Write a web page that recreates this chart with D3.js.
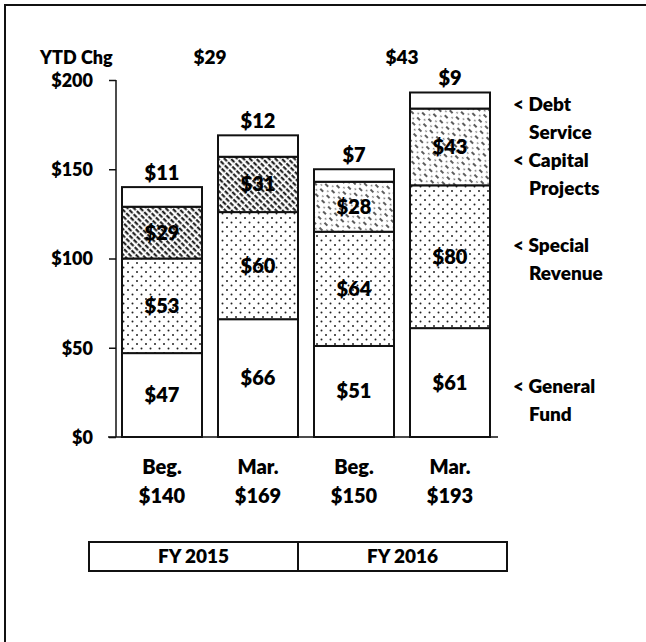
<!DOCTYPE html>
<html>
<head>
<meta charset="utf-8">
<script src="https://d3js.org/d3.v7.min.js"></script>
<style>
  body { margin: 0; background: #fff; }
  text { font-family: Lato, "Open Sans", sans-serif; font-weight: 800; fill: #000; }
</style>
</head>
<body>
<script>
    // chart values
    var barNames = ["Beg.", "Mar.", "Beg.", "Mar."];
    var totals = [140, 169, 150, 193];
    var generalFund = [47, 66, 51, 61];
    var specialRevenue = [53, 60, 64, 80];
    var capitalProjects = [29, 31, 28, 43];
    var debtService = [11, 12, 7, 9];
    var ytdChange = [29, 43];
    var fiscalYears = ["FY 2015", "FY 2016"];
    var yTicks = [0, 50, 100, 150, 200];
    var legendNames = [["Debt", "Service"], ["Capital", "Projects"], ["Special", "Revenue"], ["General", "Fund"]];

    var width = 646;
    var height = 642;

    var svg = d3.select("body")
    .append("svg")
    .attr("width", width)
    .attr("height", height);

    // frame (top and left edges only)
    svg.append("path")
    .attr("d", "M5,642 V5 H646")
    .attr("fill", "none")
    .attr("stroke", "#111")
    .attr("stroke-width", 2);

    var defs = svg.append("defs");

    var dots = defs.append("pattern")
    .attr("id", "dots")
    .attr("patternUnits", "userSpaceOnUse")
    .attr("width", 9).attr("height", 9);
    dots.append("rect").attr("width", 9).attr("height", 9).attr("fill", "#fff");
    dots.append("circle").attr("cx", 2).attr("cy", 2).attr("r", 1).attr("fill", "#222");
    dots.append("circle").attr("cx", 6.5).attr("cy", 6.5).attr("r", 1).attr("fill", "#222");

    var hatch = defs.append("pattern")
    .attr("id", "hatch")
    .attr("patternUnits", "userSpaceOnUse")
    .attr("width", 4.5).attr("height", 6)
    .attr("patternTransform", "rotate(-45)");
    hatch.append("rect").attr("width", 4.5).attr("height", 6).attr("fill", "#fff");
    hatch.append("line").attr("x1", 1.5).attr("y1", 0).attr("x2", 1.5).attr("y2", 4.5)
    .attr("stroke", "#111").attr("stroke-width", 2);

    var hatchLight = defs.append("pattern")
    .attr("id", "hatchLight")
    .attr("patternUnits", "userSpaceOnUse")
    .attr("width", 7).attr("height", 9)
    .attr("patternTransform", "rotate(-45)");
    hatchLight.append("rect").attr("width", 7).attr("height", 9).attr("fill", "#fff");
    hatchLight.append("line").attr("x1", 2).attr("y1", 0).attr("x2", 2).attr("y2", 4)
    .attr("stroke", "#333").attr("stroke-width", 1.6);
    hatchLight.append("circle").attr("cx", 5.5).attr("cy", 7).attr("r", 0.8).attr("fill", "#444");

    var scaleY = d3.scaleLinear()
    .domain([0, 200])
    .range([437, 80]);

    var ids = d3.range(barNames.length);
    var scaleX = d3.scaleBand()
    .domain(ids)
    .range([114, 498])
    .paddingInner(1/6)
    .paddingOuter(1/12);

    // y axis
    var yAxis = svg.append("g")
    .attr("transform", "translate(116,0)")
    .call(d3.axisLeft(scaleY).tickValues(yTicks).tickSize(7).tickFormat(function(d){ return "$" + d; }));
    yAxis.select(".domain").attr("stroke", "#111").attr("stroke-width", 1.5).attr("d", "M0,80 V437");
    yAxis.selectAll(".tick line").attr("stroke", "#111").attr("stroke-width", 1.5);
    yAxis.selectAll(".tick text")
    .attr("x", -23)
    .attr("dy", "0.36em")
    .style("font-size", "18px")
    .style("font-family", "Lato, sans-serif")
    .style("font-weight", "800")
    .attr("fill", "#000");

    // baseline
    svg.append("line")
    .attr("x1", 108).attr("x2", 498)
    .attr("y1", scaleY(0)).attr("y2", scaleY(0))
    .attr("stroke", "#111").attr("stroke-width", 1.5);

    // stacked segments
    var rows = ids.map(function(i){
        return {id: i, general: generalFund[i], special: specialRevenue[i], capital: capitalProjects[i], debt: debtService[i]};
    });
    var keys = ["general", "special", "capital", "debt"];
    var series = d3.stack().keys(keys)(rows);

    function fillFor(key, i){
        if (key == "special") return "url(#dots)";
        if (key == "capital") return i < 2 ? "url(#hatch)" : "url(#hatchLight)";
        return "#fff";
    }

    series.forEach(function(s){
        svg.append("g")
        .selectAll("rect")
        .data(s)
        .enter()
        .append("rect")
        .attr("x", function(d){ return scaleX(d.data.id); })
        .attr("y", function(d){ return scaleY(d[1]); })
        .attr("width", scaleX.bandwidth())
        .attr("height", function(d){ return scaleY(d[0]) - scaleY(d[1]); })
        .attr("fill", function(d){ return fillFor(s.key, d.data.id); })
        .attr("stroke", "#111")
        .attr("stroke-width", 2);
    });

    // segment labels (debt service sits above the bar)
    series.forEach(function(s){
        svg.append("g")
        .selectAll("text")
        .data(s)
        .enter()
        .append("text")
        .attr("x", function(d){ return scaleX(d.data.id) + scaleX.bandwidth()/2; })
        .attr("y", function(d){
            if (s.key == "debt") return scaleY(d[1]) - 7;
            return scaleY((d[0] + d[1]) / 2) + 7;
        })
        .attr("text-anchor", "middle")
        .style("font-size", "20px")
        .text(function(d){ return "$" + d.data[s.key]; });
    });

    // YTD change row
    svg.append("text")
    .attr("x", 40).attr("y", 64)
    .style("font-size", "18px")
    .text("YTD Chg");

    svg.append("g")
    .selectAll("text")
    .data(ytdChange)
    .enter()
    .append("text")
    .attr("x", function(d, i){
        var a = scaleX(i*2) + scaleX.bandwidth()/2;
        var b = scaleX(i*2 + 1) + scaleX.bandwidth()/2;
        return (a + b) / 2;
    })
    .attr("y", 64)
    .attr("text-anchor", "middle")
    .style("font-size", "19px")
    .text(function(d){ return "$" + d; });

    // category labels under bars
    var cat = svg.append("g")
    .selectAll("g")
    .data(ids)
    .enter()
    .append("g")
    .attr("transform", function(i){ return "translate(" + (scaleX(i) + scaleX.bandwidth()/2) + ",0)"; });
    cat.append("text")
    .attr("y", 474)
    .attr("text-anchor", "middle")
    .style("font-size", "20px")
    .text(function(i){ return barNames[i]; });
    cat.append("text")
    .attr("y", 503)
    .attr("text-anchor", "middle")
    .style("font-size", "20px")
    .text(function(i){ return "$" + totals[i]; });

    // fiscal year boxes
    var boxEdges = [89, 298, 507];
    var fy = svg.append("g")
    .selectAll("g")
    .data(fiscalYears)
    .enter()
    .append("g");
    fy.append("rect")
    .attr("x", function(d, i){ return boxEdges[i]; })
    .attr("y", 542)
    .attr("width", function(d, i){ return boxEdges[i+1] - boxEdges[i]; })
    .attr("height", 29)
    .attr("fill", "none")
    .attr("stroke", "#111")
    .attr("stroke-width", 2);
    fy.append("text")
    .attr("x", function(d, i){ return (boxEdges[i] + boxEdges[i+1]) / 2; })
    .attr("y", 563)
    .attr("text-anchor", "middle")
    .style("font-size", "19px")
    .text(function(d){ return d; });

    // legend on the right
    var legendY = [111, 167, 252, 393];
    var leg = svg.append("g")
    .selectAll("g")
    .data(legendNames)
    .enter()
    .append("g")
    .attr("transform", function(d, i){ return "translate(513," + legendY[i] + ")"; });
    leg.append("text")
    .style("font-size", "19px")
    .text(function(d){ return "< " + d[0]; });
    leg.append("text")
    .attr("x", 16)
    .attr("y", 28)
    .style("font-size", "19px")
    .text(function(d){ return d[1]; });
</script>
</body>
</html>
